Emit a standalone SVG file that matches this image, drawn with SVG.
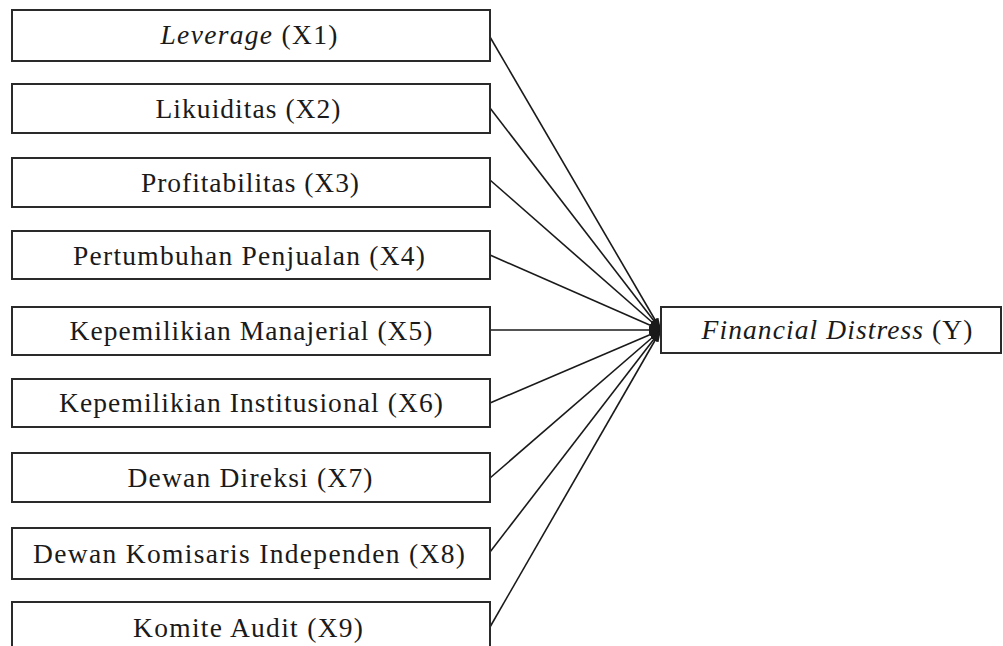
<svg xmlns="http://www.w3.org/2000/svg" width="1003" height="646" viewBox="0 0 1003 646">
<style>
.box{fill:#fff;stroke:#2a2a2a;stroke-width:2}
.t{font-family:"Liberation Serif","Times New Roman",serif;font-size:27.5px;fill:#1a1a1a;text-anchor:middle}
.i{font-style:italic}
.c{stroke:#1a1a1a;stroke-width:1.6;fill:none;marker-end:url(#ah)}
</style>
<defs>
<marker id="ah" markerUnits="userSpaceOnUse" markerWidth="12" markerHeight="8" refX="12" refY="4" orient="auto">
<path d="M0,0 L12,4 L0,8 Z" fill="#1a1a1a"/>
</marker>
</defs>
<rect width="1003" height="646" fill="#fff"/>
<g id="connectors">
<line class="c" x1="490" y1="37" x2="661" y2="330"/>
<line class="c" x1="490" y1="108" x2="661" y2="330"/>
<line class="c" x1="490" y1="180" x2="661" y2="330"/>
<line class="c" x1="490" y1="255" x2="661" y2="330"/>
<line class="c" x1="490" y1="330" x2="661" y2="330"/>
<line class="c" x1="490" y1="403" x2="661" y2="330"/>
<line class="c" x1="490" y1="478" x2="661" y2="330"/>
<line class="c" x1="490" y1="552" x2="661" y2="330"/>
<line class="c" x1="490" y1="627" x2="661" y2="330"/>
</g>
<g id="x1"><rect class="box" x="12" y="10" width="478" height="51"/><text class="t" x="249" y="44" textLength="177" lengthAdjust="spacing"><tspan class="i">Leverage</tspan> (X1)</text></g>
<g id="x2"><rect class="box" x="12" y="84" width="478" height="49"/><text class="t" x="248" y="118" textLength="185" lengthAdjust="spacing">Likuiditas (X2)</text></g>
<g id="x3"><rect class="box" x="12" y="158" width="478" height="49"/><text class="t" x="250" y="192" textLength="218" lengthAdjust="spacing">Profitabilitas (X3)</text></g>
<g id="x4"><rect class="box" x="12" y="231" width="478" height="48"/><text class="t" x="249" y="265" textLength="352" lengthAdjust="spacing">Pertumbuhan Penjualan (X4)</text></g>
<g id="x5"><rect class="box" x="12" y="307" width="478" height="48"/><text class="t" x="251" y="340" textLength="363" lengthAdjust="spacing">Kepemilikian Manajerial (X5)</text></g>
<g id="x6"><rect class="box" x="12" y="379" width="478" height="48"/><text class="t" x="251" y="412" textLength="384" lengthAdjust="spacing">Kepemilikian Institusional (X6)</text></g>
<g id="x7"><rect class="box" x="12" y="453" width="478" height="49"/><text class="t" x="250" y="487" textLength="245" lengthAdjust="spacing">Dewan Direksi (X7)</text></g>
<g id="x8"><rect class="box" x="12" y="528" width="478" height="51"/><text class="t" x="249" y="563" textLength="432" lengthAdjust="spacing">Dewan Komisaris Independen (X8)</text></g>
<g id="x9"><rect class="box" x="12" y="602" width="478" height="50"/><text class="t" x="248" y="637" textLength="230" lengthAdjust="spacing">Komite Audit (X9)</text></g>
<g id="y"><rect class="box" x="661" y="307" width="340" height="46"/><text class="t" x="837" y="339" textLength="271" lengthAdjust="spacing"><tspan class="i">Financial Distress</tspan> (Y)</text></g>
</svg>
